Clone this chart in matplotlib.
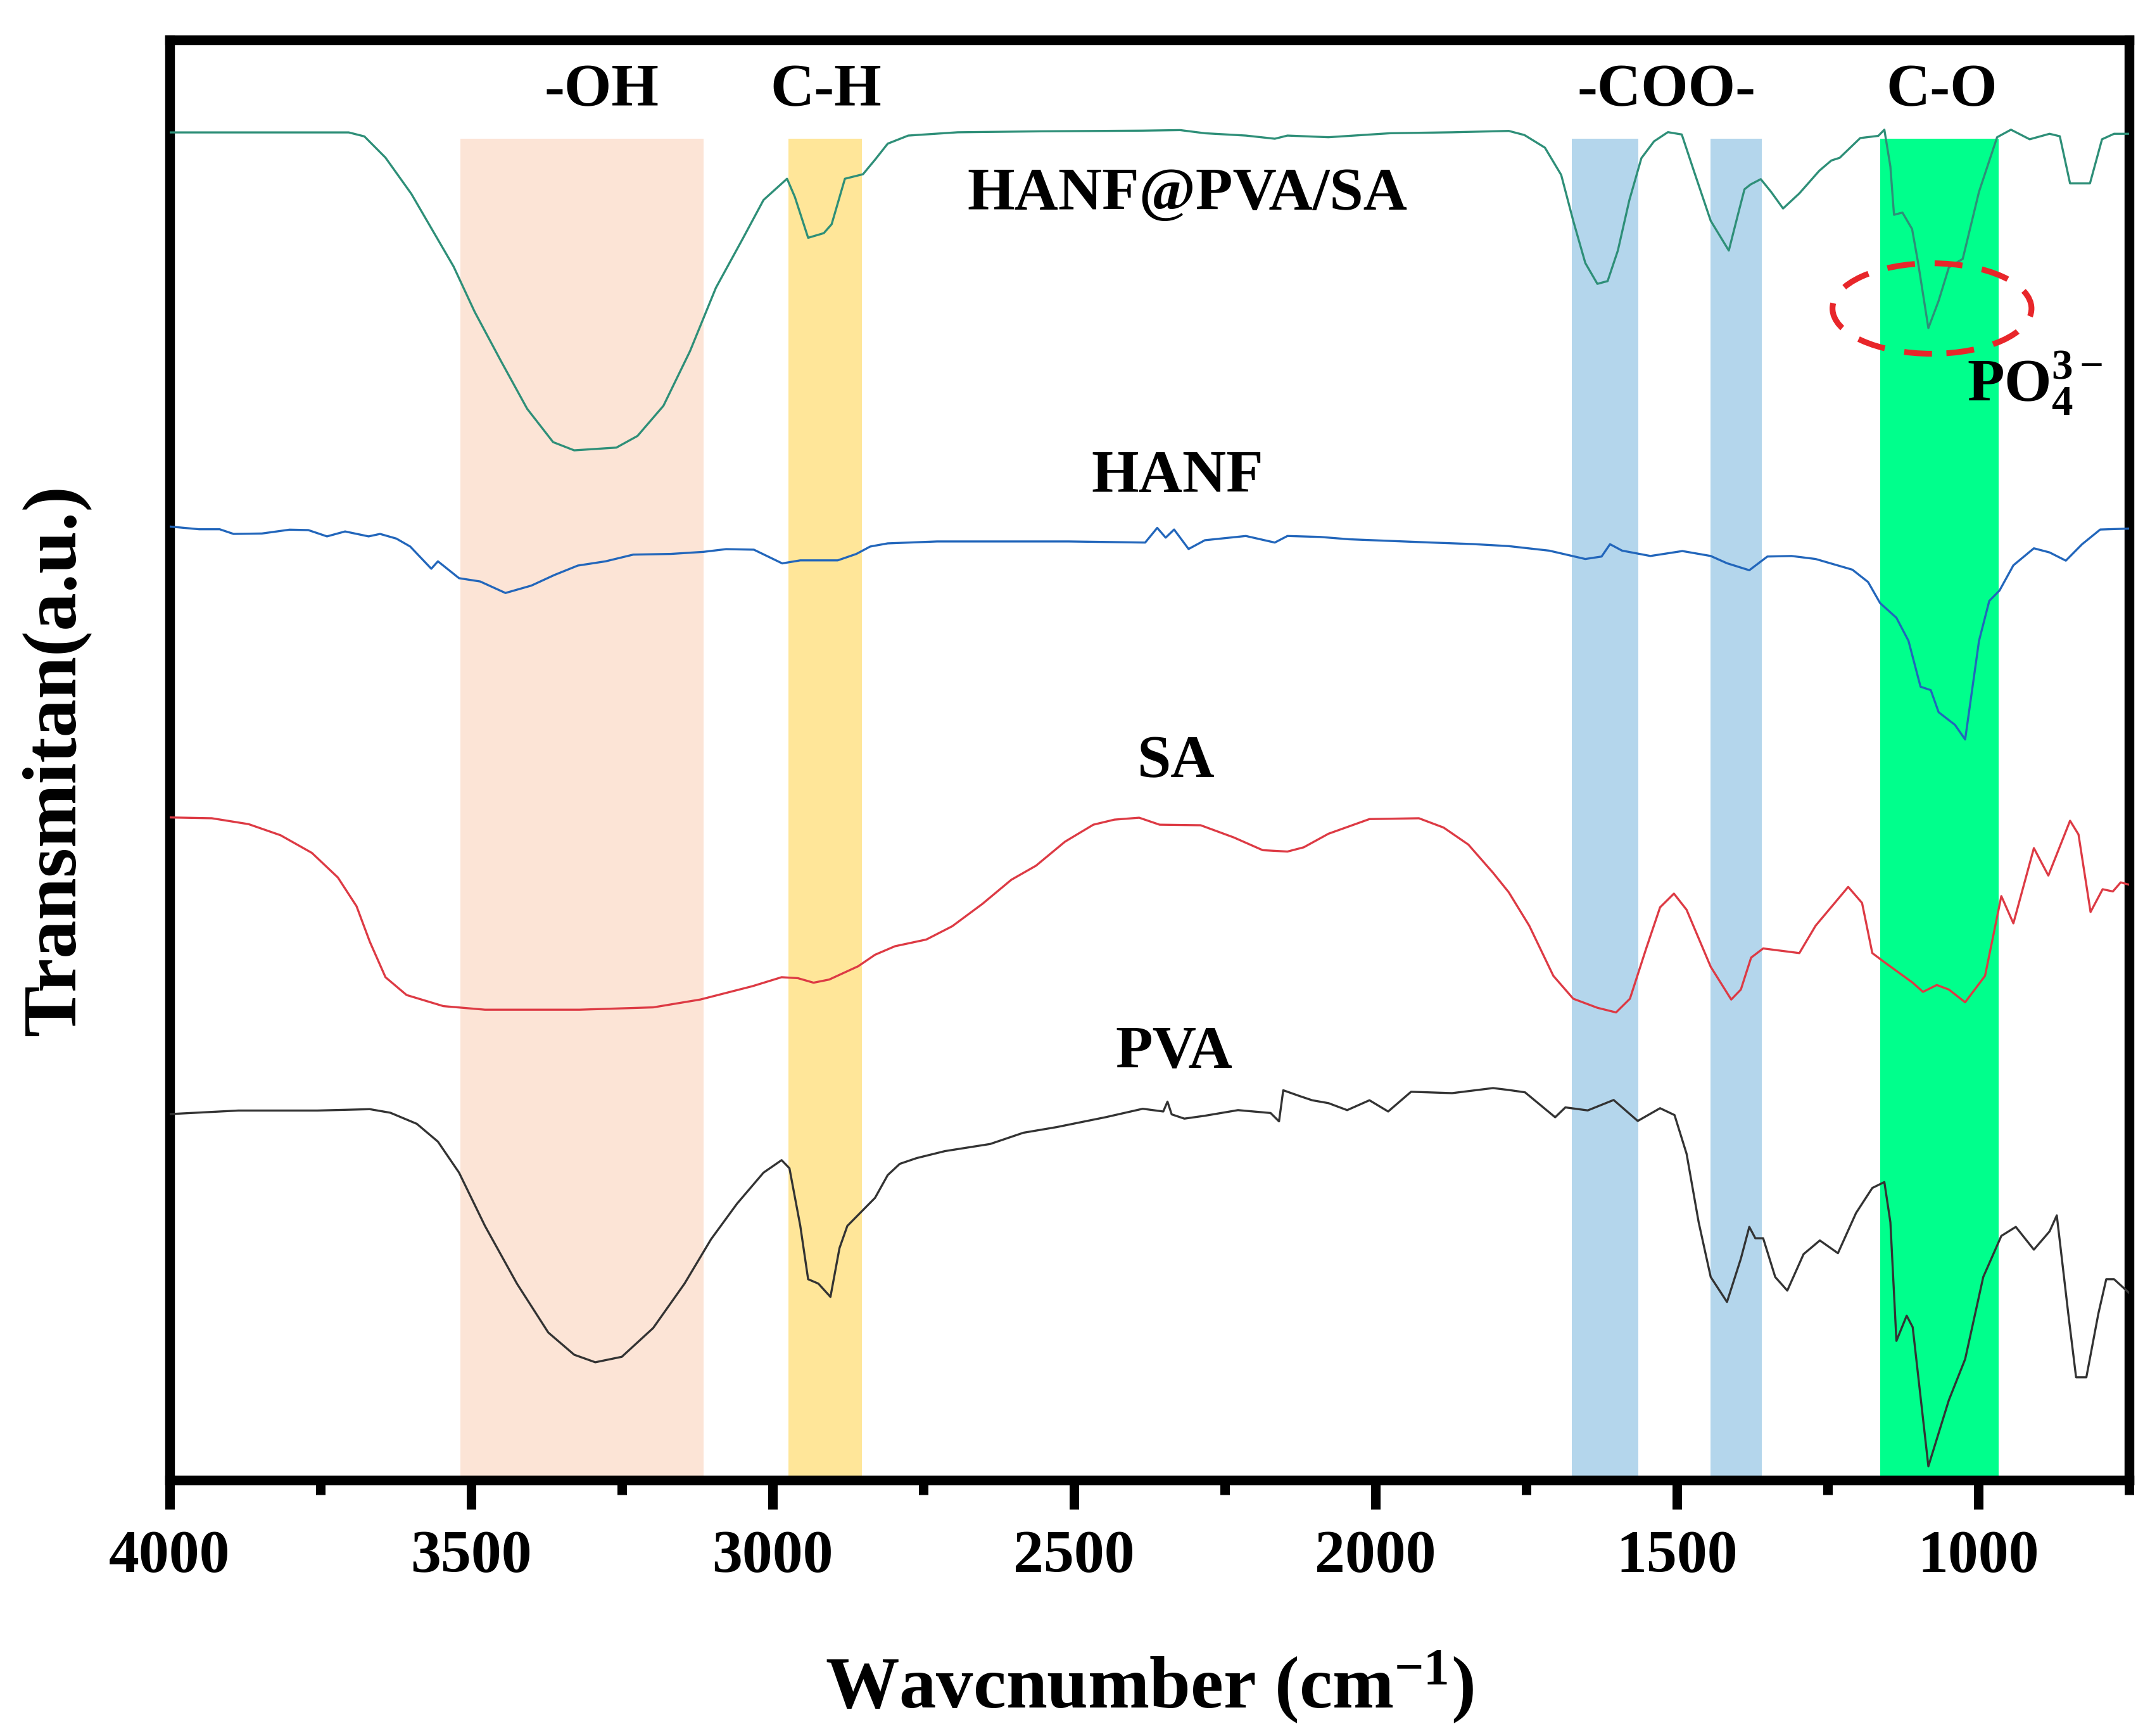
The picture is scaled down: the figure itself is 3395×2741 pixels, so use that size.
import matplotlib
matplotlib.use("Agg")
import matplotlib.pyplot as plt
from matplotlib.patches import Ellipse
from matplotlib.ticker import MultipleLocator

plt.rcParams['font.family'] = ['Liberation Serif', 'DejaVu Serif']
plt.rcParams['font.weight'] = 'bold'
plt.rcParams['mathtext.fontset'] = 'custom'
plt.rcParams['mathtext.rm'] = 'Liberation Serif'
plt.rcParams['mathtext.it'] = 'Liberation Serif:italic'
plt.rcParams['mathtext.bf'] = 'Liberation Serif:bold'

# spectra (wavenumber, offset transmittance in a.u.)
comp_w = [4000, 3703, 3677, 3642, 3599, 3564, 3529, 3494, 3451, 3407, 3364, 3329, 3259, 3224,
          3181, 3137, 3094, 3050, 3015, 2976, 2963, 2941, 2915, 2902, 2880, 2850, 2830, 2809,
          2775, 2693, 2556, 2386, 2324, 2283, 2215, 2167, 2146, 2078, 1976, 1873, 1779, 1753,
          1719, 1692, 1672, 1652, 1632, 1615, 1598, 1579, 1559, 1538, 1515, 1492, 1472, 1444,
          1414, 1398, 1388, 1378, 1361, 1344, 1324, 1297, 1264, 1244, 1230, 1196, 1166, 1156,
          1146, 1140, 1126, 1110, 1100, 1083, 1066, 1049, 1026, 999, 969, 946, 915, 882, 865,
          848, 815, 795, 775, 750]
comp_t = [983.5, 983.5, 980.6, 965.1, 938.6, 912.1, 885.6, 852.5, 817.1, 781.8, 757.5, 751.5,
          753.5, 762, 784, 823.8, 870.1, 905.5, 934.2, 949.7, 936.4, 906.6, 910, 916.5, 949.7,
          953, 963.6, 975.3, 981.2, 983.6, 984.3, 984.8, 985.2, 982.9, 981.2, 978.9, 981.2, 980,
          982.9, 983.6, 984.6, 981.6, 972.4, 952.5, 919, 888.2, 873, 875, 897.3, 934, 964.7, 977,
          983.7, 982, 955.5, 919, 897.3, 925, 942, 945.5, 949.4, 940.2, 928, 939, 955.5, 963, 965,
          979.4, 981, 985.5, 958.6, 923.4, 925, 913, 888.3, 840.7, 860.6, 885, 891.2, 940.2, 980,
          985.5, 978.5, 982.5, 980.7, 946.3, 946.3, 978.5, 982.5, 982.5]

hanf_w = [4000, 3951, 3917, 3894, 3847, 3801, 3770, 3739, 3709, 3670, 3651, 3624, 3601, 3566,
          3555, 3520, 3485, 3443, 3400, 3362, 3323, 3277, 3231, 3169, 3115, 3077, 3031, 2984,
          2954, 2892, 2861, 2838, 2809, 2727, 2509, 2382, 2362, 2348, 2334, 2310, 2283, 2215,
          2167, 2146, 2092, 2044, 1976, 1907, 1839, 1779, 1712, 1652, 1625, 1611, 1591, 1544,
          1491, 1444, 1417, 1380, 1350, 1310, 1270, 1209, 1183, 1163, 1136, 1116, 1096, 1079,
          1066, 1039, 1022, 999, 982, 965, 942, 908, 882, 855, 828, 798, 750]
hanf_t = [695.9, 693.9, 693.9, 690.5, 690.8, 693.6, 693.3, 688.7, 692.3, 688.7, 690.5, 687.1,
          681.3, 665.1, 670.5, 658.2, 655.8, 647.4, 652.8, 660.5, 667.4, 670.5, 675.4, 675.9,
          677.4, 679.4, 679, 669, 671.2, 671.2, 675.9, 681.3, 683.6, 685, 685, 684.2, 694.9,
          687.8, 693.7, 679.5, 685.9, 689, 684.2, 689, 688.3, 686.6, 685.4, 684.2, 683.1, 681.6,
          678.3, 672.2, 674, 683, 678.3, 674.4, 678, 674.4, 669.1, 664, 674, 674.4, 672.2, 664.4,
          655.4, 640, 629.3, 612.5, 579, 576.5, 560.4, 551.2, 540.5, 612.5, 641.6, 649.2, 667.6,
          680, 677, 671, 683, 693.7, 694.4]

sa_w = [4000, 3930, 3869, 3816, 3764, 3721, 3690, 3668, 3642, 3607, 3546, 3477, 3320, 3198,
        3120, 3033, 2985, 2958, 2932, 2906, 2858, 2830, 2797, 2745, 2702, 2652, 2604, 2563,
        2515, 2468, 2433, 2392, 2358, 2290, 2235, 2187, 2146, 2119, 2078, 2010, 1928, 1887,
        1846, 1805, 1779, 1745, 1705, 1672, 1632, 1601, 1578, 1551, 1528, 1505, 1484, 1444,
        1410, 1394, 1377, 1357, 1297, 1270, 1216, 1193, 1176, 1156, 1109, 1092, 1069, 1049,
        1022, 989, 972, 962, 942, 908, 884, 848, 834, 814, 794, 777, 764, 750]
sa_t = [483.6, 483, 478.7, 470.6, 457.7, 439.8, 418.8, 392.9, 367, 354, 345.9, 343.3, 343.3,
        345, 350.7, 360.5, 367, 366.3, 363, 365.3, 375, 383.4, 389.6, 394.5, 404.2, 420.5,
        438.1, 448.4, 465.9, 478.3, 482, 483.4, 478.3, 477.9, 469, 459.7, 458.7, 461.8, 471.7,
        482.4, 483, 476.2, 463.8, 443.2, 429, 404.6, 368, 351.3, 344.7, 341.3, 351.3, 388, 418,
        428, 416.2, 374.6, 350.7, 358, 381.3, 388, 384.6, 404.6, 432.9, 421.2, 384.6, 378, 363,
        356.3, 361.3, 358, 348.7, 368, 404.6, 426.2, 406.3, 461.2, 441.2, 481.2, 471.2, 414.6,
        431.2, 429.6, 436.2, 434.5]

pva_w = [4000, 3886, 3755, 3668, 3634, 3590, 3555, 3520, 3477, 3424, 3372, 3329, 3294, 3250,
         3198, 3146, 3102, 3059, 3015, 2985, 2972, 2954, 2941, 2924, 2904, 2889, 2876, 2830,
         2809, 2789, 2761, 2714, 2639, 2584, 2529, 2447, 2386, 2352, 2345, 2338, 2317, 2283,
         2228, 2174, 2160, 2153, 2126, 2105, 2078, 2047, 2010, 1979, 1941, 1873, 1805, 1779,
         1752, 1702, 1685, 1648, 1605, 1565, 1528, 1504, 1484, 1464, 1444, 1417, 1394, 1380,
         1370, 1357, 1337, 1317, 1290, 1263, 1233, 1203, 1176, 1156, 1146, 1136, 1119, 1109,
         1083, 1049, 1022, 992, 962, 938, 908, 882, 870, 851, 838, 821, 801, 788, 775, 750]
pva_t = [267.1, 269.7, 269.7, 270.7, 268.1, 260, 247, 224.4, 185.5, 143.4, 107.7, 91.5, 86,
         90, 111, 143.4, 175.8, 201.7, 224.4, 233.5, 227.6, 185.5, 146.6, 143.4, 133.7, 169.3,
         185.5, 206, 222.6, 230.8, 235, 240.1, 245.3, 253.5, 257.6, 264.9, 271, 269, 276.2,
         266.9, 263.8, 265.9, 270, 267.9, 261.8, 284.5, 280.3, 277.2, 275.1, 270, 277.2, 269,
         283.4, 282.4, 286.1, 284.7, 283, 264.8, 272, 269.8, 277.4, 262.1, 271.4, 266.4, 238.1,
         188.2, 148.2, 130, 161.6, 184.8, 176.5, 176.5, 148.2, 138.3, 164.9, 174.9, 165.6,
         194.9, 213.2, 217.5, 188.2, 101.6, 120, 111.6, 10.1, 58.4, 88.3, 148.2, 178.2, 184.8,
         168.2, 181.5, 193.2, 121.6, 75, 75, 121.6, 146.6, 146.6, 136.6]

# highlighted bands: (from, to) in cm-1
band_ranges = [(3518, 3114), (2974, 2852), (1674, 1564), (1444, 1359), (1163, 966)]
band_colors = ['#FCE4D6', '#FFE699', '#B4D6EC', '#B4D6EC', '#00FF8C']
band_names = ['-OH', 'C-H', '-COO-', 'C-O']
band_name_x = [3284, 2911, 1517, 1061]

fig = plt.figure(figsize=(3395 / 300, 2741 / 300), dpi=300)
ax = fig.add_axes([0.0789, 0.1474, 0.9903 - 0.0789, 0.977 - 0.1474])

ytop = 1051
for (a, b), c in zip(band_ranges, band_colors):
    ax.axvspan(b, a, ymin=0, ymax=979 / ytop, color=c, lw=0, zorder=1)

ax.plot(comp_w, comp_t, color='#2E8F78', lw=0.8, zorder=3)
ax.plot(hanf_w, hanf_t, color='#2266BB', lw=0.8, zorder=3)
ax.plot(sa_w, sa_t, color='#DD3A44', lw=0.8, zorder=3)
ax.plot(pva_w, pva_t, color='#333333', lw=0.8, zorder=3)

tsize = 23
for name, x in zip(band_names, band_name_x):
    ax.text(x, 1003, name, ha='center', va='baseline', fontsize=tsize, fontweight='bold')
ax.text(2312, 927, 'HANF@PVA/SA', ha='center', va='baseline', fontsize=tsize, fontweight='bold')
ax.text(2328, 721, 'HANF', ha='center', va='baseline', fontsize=tsize, fontweight='bold')
ax.text(2331, 513, 'SA', ha='center', va='baseline', fontsize=tsize, fontweight='bold')
ax.text(2334, 301, 'PVA', ha='center', va='baseline', fontsize=tsize, fontweight='bold')
ax.text(1019, 787, r'PO$_{\mathbf{4}}^{\mathbf{3-}}$', ha='left', va='baseline',
        fontsize=tsize, fontweight='bold')

ell = Ellipse((1077, 855), width=330, height=66, fill=False, edgecolor='#E8262A',
              lw=2.2, linestyle=(0, (4.8, 3.4)), zorder=4)
ax.add_patch(ell)

ax.set_xlim(4000, 750)
ax.set_ylim(0, ytop)
ax.xaxis.set_major_locator(MultipleLocator(500))
ax.xaxis.set_minor_locator(MultipleLocator(250))
ax.set_yticks([])
ax.tick_params(axis='x', which='major', direction='out', length=11, width=3.6, pad=8,
               labelsize=tsize, top=False)
ax.tick_params(axis='x', which='minor', direction='out', length=5.5, width=3.6, top=False)
for lab in ax.get_xticklabels():
    lab.set_fontweight('bold')
for sp in ax.spines.values():
    sp.set_linewidth(3.7)

fig.text(0.026, 0.562, 'Transmitan(a.u.)', rotation=90, ha='center', va='center',
         fontsize=29, fontweight='bold')
fig.text(0.5346, 0.016, r'Wavcnumber (cm$^{-1}$)', ha='center', va='baseline',
         fontsize=28, fontweight='bold')

fig.savefig('out.png', dpi=300)
